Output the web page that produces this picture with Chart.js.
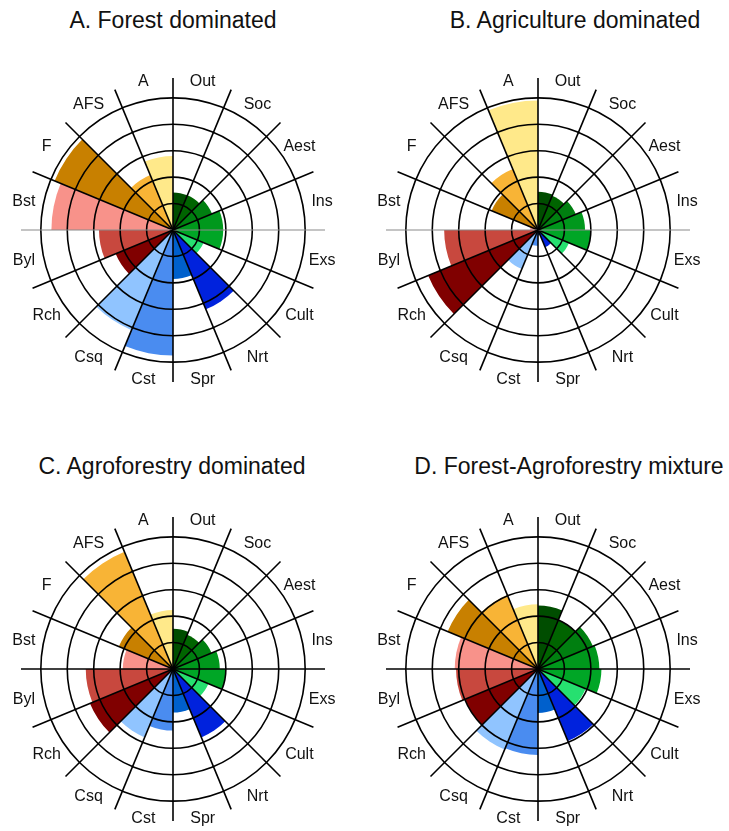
<!DOCTYPE html>
<html>
<head>
<meta charset="utf-8">
<script src="https://cdn.jsdelivr.net/npm/chart.js@4.4.1/dist/chart.umd.min.js"></script>
<style>
  html, body { margin: 0; padding: 0; background: #fff; }
  body { width: 729px; height: 831px; position: relative; overflow: hidden; font-family: "Liberation Sans", Arial, sans-serif; }
  .title { position: absolute; font-size: 23px; color: #111; white-space: nowrap; transform: translateX(-50%); line-height: 28px; }
  canvas { position: absolute; }
</style>
</head>
<body>
<div class="title" style="left:173px; top:6px;">A. Forest dominated</div>
<div class="title" style="left:575px; top:6px;">B. Agriculture dominated</div>
<div class="title" style="left:172px; top:452px;">C. Agroforestry dominated</div>
<div class="title" style="left:569px; top:452px;">D. Forest-Agroforestry mixture</div>
<canvas id="cA" width="364" height="380" style="left:0px; top:40px;"></canvas>
<canvas id="cB" width="364" height="380" style="left:365px; top:40px;"></canvas>
<canvas id="cC" width="364" height="380" style="left:0px; top:479px;"></canvas>
<canvas id="cD" width="364" height="380" style="left:365px; top:479px;"></canvas>
<script>
// Categories, clockwise from top
const categories = ["Out", "Soc", "Aest", "Ins", "Exs", "Cult", "Nrt", "Spr", "Cst", "Csq", "Rch", "Byl", "Bst", "F", "AFS", "A"];

// Series values (ring units 0..5)
const forestDominated      = [1.42, 1.42, 1.6, 1.9, 1.9, 1.25, 3.25, 1.85, 4.75, 4.1, 2.35, 2.8, 4.6, 4.85, 2.25, 2.8];
const agricultureDominated = [1.45, 1.4, 1.55, 1.78, 2.0, 1.27, 0.7, 0.2, 0.6, 1.6, 4.5, 3.55, 0.3, 1.9, 2.5, 4.9];
const agroforestryDominated= [1.52, 1.4, 1.58, 1.77, 2.0, 1.45, 2.8, 1.65, 2.33, 2.8, 3.4, 3.3, 1.9, 2.22, 4.8, 2.23];
const forestAgroMixture    = [2.4, 2.0, 2.25, 2.32, 2.4, 1.95, 2.95, 1.66, 3.25, 3.3, 3.0, 3.1, 3.15, 3.7, 3.03, 2.45];

// Ring tick values
const ringTicks = [1, 2, 3, 4, 5];

const sectorColors = ["#004d00", "#006400", "#007f10", "#00981c", "#00a626", "#26e070",
  "#0022dd", "#0060cc", "#4a8cf0", "#90c4ff", "#800000", "#c8483e", "#f8928a",
  "#c88000", "#f8b436", "#ffe98a"];

const labelPlugin = {
  id: 'sectorLabels',
  afterDraw(chart) {
    const scale = chart.scales.r;
    const ctx = chart.ctx;
    ctx.save();
    ctx.font = '16px "Liberation Sans", Arial, sans-serif';
    ctx.fillStyle = '#111';
    ctx.textAlign = 'center';
    ctx.textBaseline = 'middle';
    const n = categories.length;
    for (let i = 0; i < n; i++) {
      const p = scale.getPointPosition(i, scale.drawingArea, Math.PI / n);
      ctx.fillText(categories[i], p.x, p.y + 1);
    }
    ctx.restore();
  }
};

function makeChart(id, values, grayHorizontal) {
  const ringMax = ringTicks[ringTicks.length - 1];
  new Chart(document.getElementById(id), {
    type: 'polarArea',
    data: {
      labels: categories,
      datasets: [{
        data: values,
        backgroundColor: sectorColors,
        borderWidth: 0
      }]
    },
    options: {
      responsive: false,
      animation: false,
      layout: { padding: { left: 21, right: 39, top: 38, bottom: 38 } },
      plugins: { legend: { display: false }, tooltip: { enabled: false } },
      scales: {
        r: {
          min: 0,
          max: ringMax * 1.15,
          ticks: { display: false, stepSize: 1 },
          grid: {
            z: 1,
            circular: true,
            lineWidth: 1.6,
            color: (c) => (c.tick && c.tick.value > ringMax + 0.001) ? 'rgba(0,0,0,0)' : '#000'
          },
          angleLines: {
            display: true,
            lineWidth: (c) => (grayHorizontal && (c.index === 4 || c.index === 12)) ? 1.2 : 1.6,
            color: (c) => (grayHorizontal && (c.index === 4 || c.index === 12)) ? '#8a8a8a' : '#000'
          },
          pointLabels: { display: false }
        }
      }
    },
    plugins: [labelPlugin]
  });
}

makeChart('cA', forestDominated, true);
makeChart('cB', agricultureDominated, true);
makeChart('cC', agroforestryDominated, false);
makeChart('cD', forestAgroMixture, false);
</script>
</body>
</html>
